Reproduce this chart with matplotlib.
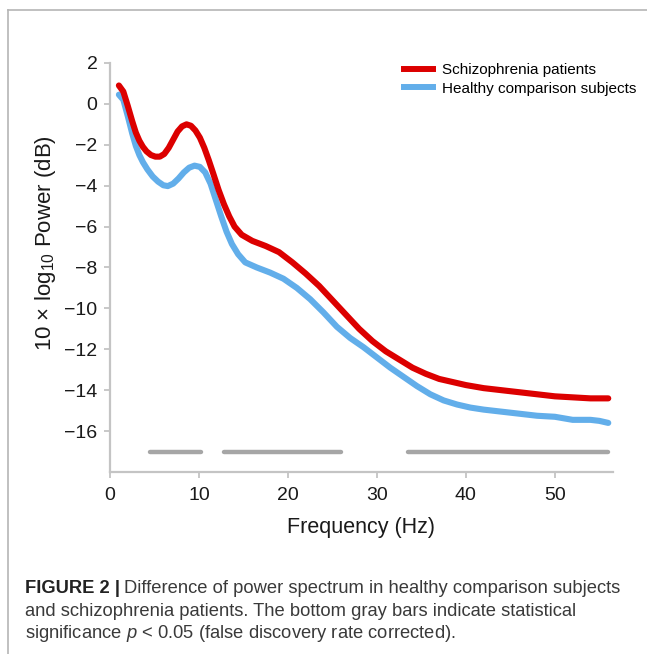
import numpy as np
import matplotlib.pyplot as plt
from matplotlib.lines import Line2D

plt.rcParams['font.family'] = ['Liberation Sans', 'DejaVu Sans']
plt.rcParams['mathtext.fontset'] = 'custom'
plt.rcParams['mathtext.rm'] = 'Liberation Sans'
plt.rcParams['mathtext.it'] = 'Liberation Sans:italic'

## spectrum (Hz, dB)
freq_scz = [1.0, 1.5, 2.0, 2.5, 2.9, 3.3, 3.7, 4.1, 4.6, 5.1, 5.6, 6.1, 6.6, 7.1, 7.6, 8.1,
            8.6, 9.1, 9.6, 10.1, 10.6, 11.1, 11.6, 12.2, 12.8, 13.4, 14.0, 14.8, 16.0, 17.5,
            19.0, 20.5, 22.0, 23.5, 25.0, 26.5, 28.0, 29.5, 31.0, 32.5, 34.0, 35.5, 37.0,
            38.5, 40.0, 42.0, 44.0, 46.0, 48.0, 50.0, 52.0, 54.0, 56.0]
pow_scz = [0.9, 0.6, -0.1, -0.85, -1.4, -1.8, -2.1, -2.32, -2.5, -2.58, -2.58, -2.45, -2.15,
           -1.75, -1.35, -1.1, -1.0, -1.07, -1.3, -1.65, -2.15, -2.75, -3.4, -4.2, -4.9,
           -5.5, -6.0, -6.4, -6.7, -6.95, -7.25, -7.75, -8.3, -8.9, -9.6, -10.3, -11.0,
           -11.6, -12.1, -12.5, -12.9, -13.2, -13.45, -13.6, -13.75, -13.9, -14.0, -14.1,
           -14.2, -14.3, -14.35, -14.4, -14.4]

freq_hc = [1.0, 1.5, 2.0, 2.5, 2.9, 3.3, 3.7, 4.2, 4.8, 5.4, 6.0, 6.5, 7.1, 7.7, 8.3, 8.9,
           9.5, 10.1, 10.7, 11.3, 11.9, 12.5, 13.1, 13.7, 14.4, 15.2, 16.5, 18.0, 19.5,
           21.0, 22.5, 24.0, 25.5, 27.0, 28.5, 30.0, 31.5, 33.0, 34.5, 36.0, 37.5, 39.0,
           40.5, 42.0, 44.0, 46.0, 48.0, 50.0, 52.0, 54.0, 55.0, 56.0]
pow_hc = [0.45, 0.2, -0.6, -1.45, -2.05, -2.5, -2.85, -3.2, -3.55, -3.8, -3.98, -4.02, -3.9,
          -3.65, -3.35, -3.12, -3.02, -3.08, -3.35, -3.9, -4.7, -5.5, -6.25, -6.85, -7.35,
          -7.75, -8.0, -8.25, -8.55, -9.0, -9.55, -10.2, -10.9, -11.45, -11.9, -12.4, -12.9,
          -13.35, -13.8, -14.2, -14.5, -14.7, -14.85, -14.95, -15.05, -15.15, -15.25, -15.3,
          -15.45, -15.45, -15.5, -15.6]

sig_start = [4.5, 12.8, 33.5]
sig_end = [10.2, 26.0, 56.0]
sig_level = -17

red = '#dc0000'
blue = '#62aeea'
grey = '#a6a6a6'
spine = '#c4c4c4'

fig = plt.figure(figsize=(6.47, 6.54), dpi=100)
ax = fig.add_axes([0.170, 0.2783, 0.777, 0.6254])

ax.hlines(sig_level * np.ones(len(sig_start)), sig_start, sig_end,
          color=grey, lw=3.2, capstyle='round')
ax.plot(freq_hc, pow_hc, color=blue, lw=4.4, solid_capstyle='round', solid_joinstyle='round')
ax.plot(freq_scz, pow_scz, color=red, lw=4.4, solid_capstyle='round', solid_joinstyle='round')

ax.set_xlim(0, 56.5)
ax.set_ylim(-18, 2)
ax.set_xticks(range(0, 60, 10))
ax.set_yticks(range(-16, 4, 2))
ax.set_yticklabels([str(v).replace('-', '\u2212') for v in range(-16, 4, 2)])
for s in ['top', 'right']:
    ax.spines[s].set_visible(False)
for s in ['left', 'bottom']:
    ax.spines[s].set_color(spine)
    ax.spines[s].set_linewidth(1.6)
ax.tick_params(colors=spine, labelcolor='#1a1a1a', labelsize=14, length=4, width=1.3)
ax.tick_params(axis='x', pad=7)
ax.tick_params(axis='y', pad=5)

ax.set_xlabel('Frequency (Hz)', fontsize=15.5, color='#1a1a1a', labelpad=9)
ax.set_ylabel('10 \u00d7 log$_{10}$ Power (dB)', fontsize=16, color='#1a1a1a')
ax.yaxis.set_label_coords(-0.103, 0.56)

handles = [Line2D([], [], color=red, lw=4.3), Line2D([], [], color=blue, lw=4.3)]
ax.legend(handles, ['Schizophrenia patients', 'Healthy comparison subjects'],
          loc='upper left', bbox_to_anchor=(0.585, 1.0), frameon=False, fontsize=11,
          handlelength=1.9, handletextpad=0.6, labelspacing=0.3, borderpad=0, borderaxespad=0)

## frame round the figure panel
fig.add_artist(Line2D([8 / 647, 8 / 647], [0, 1 - 10 / 654], color='#b5b5b5', lw=1.2))
fig.add_artist(Line2D([8 / 647, 1], [1 - 10 / 654, 1 - 10 / 654], color='#b5b5b5', lw=1.2))

## caption
cap_kw = dict(fontsize=13.2, color='#3a3a3a', va='baseline')
r = fig.canvas.get_renderer()
t0 = fig.text(25 / 647, 1 - 593 / 654, 'FIGURE 2 |', fontweight='bold', color='#222222',
              fontsize=13.2, va='baseline')
bb = t0.get_window_extent(r)
fig.text(bb.x1 / fig.bbox.width + 0.006, 1 - 593 / 654,
         'Difference of power spectrum in healthy comparison subjects', **cap_kw)
fig.text(25 / 647, 1 - 616 / 654,
         'and schizophrenia patients. The bottom gray bars indicate statistical', **cap_kw)
fig.text(25 / 647, 1 - 638 / 654,
         'significance $\\it{p}$ < 0.05 (false discovery rate corrected).', **cap_kw)

fig.savefig('out.png', dpi=100)
